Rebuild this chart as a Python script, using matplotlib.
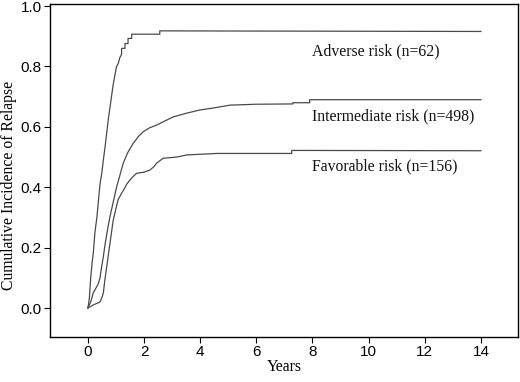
import matplotlib
matplotlib.use("Agg")
import matplotlib.pyplot as plt

# cumulative incidence curves (years, probability)
adverse_t = [0, 0.05, 0.1, 0.15, 0.19, 0.25, 0.32, 0.38, 0.43, 0.5, 0.55, 0.62, 0.67,
             0.72, 0.78, 0.84, 0.9, 0.96, 1.02, 1.08, 1.14, 1.2, 1.2, 1.32, 1.32, 1.43,
             1.43, 1.56, 1.56, 2.56, 2.56, 14]
adverse_y = [0, 0.03, 0.1, 0.15, 0.18, 0.25, 0.3, 0.36, 0.41, 0.45, 0.49, 0.54, 0.58,
             0.62, 0.66, 0.7, 0.74, 0.77, 0.8, 0.81, 0.83, 0.84, 0.86, 0.86, 0.876, 0.876,
             0.893, 0.893, 0.907, 0.907, 0.918, 0.916]

inter_t = [0, 0.1, 0.19, 0.28, 0.37, 0.43, 0.49, 0.55, 0.61, 0.7, 0.78, 0.9, 1.02, 1.14,
           1.26, 1.42, 1.61, 1.8, 1.97, 2.2, 2.45, 2.75, 3.04, 3.5, 3.99, 4.5, 5.06, 6.0,
           7.3, 7.3, 7.9, 7.9, 14]
inter_y = [0, 0.02, 0.05, 0.065, 0.08, 0.1, 0.137, 0.17, 0.21, 0.26, 0.3, 0.35, 0.4, 0.44,
           0.48, 0.515, 0.545, 0.568, 0.584, 0.597, 0.606, 0.62, 0.633, 0.645, 0.656, 0.663,
           0.672, 0.675, 0.676, 0.68, 0.68, 0.69, 0.69]

fav_t = [0, 0.19, 0.43, 0.5, 0.55, 0.6, 0.67, 0.72, 0.78, 0.84, 0.9, 1.0, 1.08, 1.2, 1.3,
         1.38, 1.55, 1.73, 2.0, 2.21, 2.35, 2.45, 2.68, 3.16, 3.52, 4.59, 7.26, 7.26, 14]
fav_y = [0, 0.01, 0.02, 0.035, 0.05, 0.09, 0.137, 0.17, 0.21, 0.25, 0.29, 0.33, 0.36, 0.38,
         0.395, 0.41, 0.43, 0.446, 0.45, 0.457, 0.468, 0.48, 0.496, 0.50, 0.507, 0.512,
         0.512, 0.522, 0.521]

labels = ["Adverse risk (n=62)", "Intermediate risk (n=498)", "Favorable risk (n=156)"]
label_pos = [(8.0, 0.849), (8.0, 0.636), (8.0, 0.468)]

fig = plt.figure(figsize=(5.2, 3.82), dpi=100)
ax = fig.add_axes([50 / 520, 1 - 337 / 382, 468 / 520, 333 / 382])

line_kw = dict(color="#4a4a4a", lw=0.9)
ax.plot(adverse_t, adverse_y, **line_kw)
ax.plot(inter_t, inter_y, **line_kw)
ax.plot(fav_t, fav_y, **line_kw)

for txt, (x, y) in zip(labels, label_pos):
    ax.text(x, y, txt, family="Liberation Serif", fontsize=11.3, va="center", ha="left", color="#111")

ax.set_xlim(-1.35, 15.32)
ax.set_ylim(-0.096, 1.007)
ax.set_xticks(range(0, 15, 2))
ax.set_yticks([0.0, 0.2, 0.4, 0.6, 0.8, 1.0])
ax.set_yticklabels(["0.0", "0.2", "0.4", "0.6", "0.8", "1.0"])
ax.tick_params(direction="out", length=4, width=0.8, labelsize=11, pad=2)
for lab in ax.get_xticklabels() + ax.get_yticklabels():
    lab.set_family("Liberation Sans")
for s in ax.spines.values():
    s.set_linewidth(1.0)

ax.set_xlabel("Years", family="Liberation Serif", fontsize=11.3, labelpad=0)
ax.set_ylabel("Cumulative Incidence of Relapse", family="Liberation Serif", fontsize=11.3, va="center")
ax.yaxis.set_label_coords(-0.088, 0.456)

fig.savefig("out.png", dpi=100)
